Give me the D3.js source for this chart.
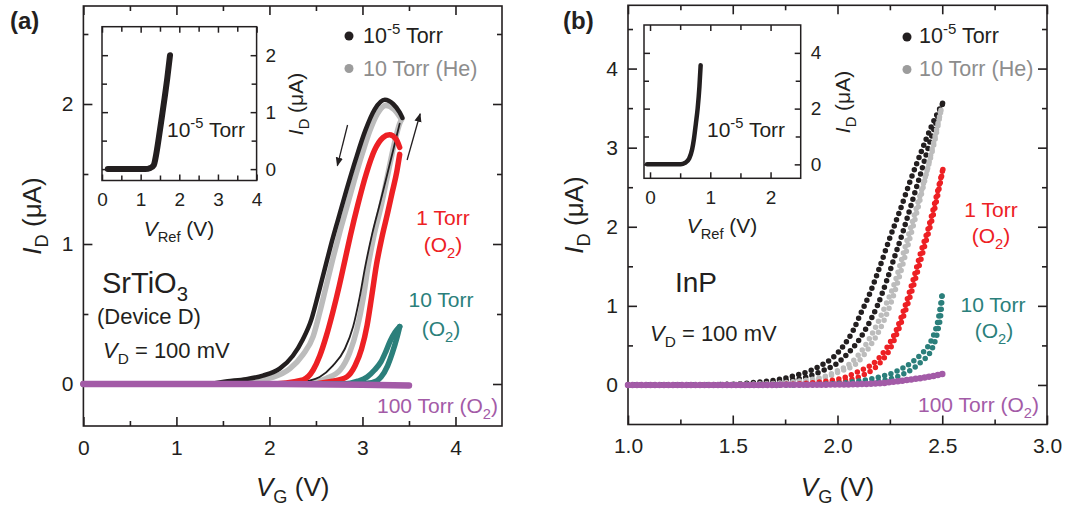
<!DOCTYPE html>
<html><head><meta charset="utf-8">
<script src="https://cdn.jsdelivr.net/npm/d3@7"></script>
<style>body{margin:0;background:#fff}</style>
</head><body>
<svg id="c" width="1068" height="508" xmlns="http://www.w3.org/2000/svg"></svg>
<script>
// ---------------- DATA ----------------
// Panel (a): SrTiO3, [V_G (V), I_D (uA)]
const aBlackRev = [[0,0],[1.3,0],[1.55,0.02],[1.75,0.035],[1.93,0.06],[2.11,0.11],[2.25,0.2],[2.36,0.32],[2.45,0.46],[2.52,0.63],[2.59,0.81],[2.66,0.99],[2.74,1.18],[2.83,1.39],[2.93,1.61],[3.03,1.81],[3.13,1.96],[3.24,2.03],[3.33,2.0],[3.4,1.94],[3.43,1.9]];
const aBlackFwd = [[0,0],[2.2,0],[2.4,0.02],[2.54,0.05],[2.68,0.13],[2.81,0.25],[2.9,0.41],[2.97,0.62],[3.03,0.84],[3.1,1.06],[3.18,1.27],[3.26,1.48],[3.33,1.67],[3.4,1.86]];
const aGrayRev = [[0,0],[1.5,0],[1.75,0.02],[2.04,0.05],[2.22,0.11],[2.36,0.21],[2.47,0.34],[2.54,0.51],[2.61,0.7],[2.68,0.89],[2.75,1.07],[2.83,1.26],[2.91,1.45],[3.0,1.65],[3.08,1.81],[3.16,1.93],[3.25,1.99],[3.34,1.96],[3.4,1.91],[3.42,1.89]];
const aGrayFwd = [[0,0],[2.3,0],[2.47,0.01],[2.61,0.04],[2.76,0.1],[2.86,0.22],[2.94,0.39],[3.01,0.62],[3.06,0.84],[3.12,1.05],[3.2,1.27],[3.27,1.49],[3.34,1.71],[3.4,1.86],[3.42,1.89]];
const aRedRev = [[0,0],[2,0],[2.36,0.03],[2.47,0.1],[2.54,0.2],[2.61,0.34],[2.68,0.51],[2.75,0.7],[2.81,0.88],[2.87,1.06],[2.95,1.28],[3.04,1.5],[3.13,1.67],[3.22,1.76],[3.29,1.78],[3.36,1.75],[3.4,1.69]];
const aRedFwd = [[0,0],[2.4,0],[2.68,0.02],[2.83,0.05],[2.92,0.13],[2.99,0.25],[3.05,0.42],[3.1,0.63],[3.15,0.85],[3.21,1.05],[3.27,1.22],[3.32,1.37],[3.37,1.52],[3.4,1.64]];
const aTealFwd = [[0,0],[2.9,0],[3.1,0.01],[3.2,0.05],[3.27,0.13],[3.32,0.22],[3.37,0.33],[3.4,0.41]];
const aTealRev = [[0,0],[2.8,0],[2.95,0.02],[3.05,0.05],[3.13,0.1],[3.2,0.16],[3.25,0.23],[3.3,0.31],[3.35,0.37],[3.4,0.41]];
const aPurple = [[0,0],[1,0],[2,0],[3,-0.005],[3.5,-0.01]];
// Inset (a): [V_Ref (V), I_D (uA)]
const aInset = [[0.15,0],[0.6,0],[1.12,0],[1.25,0.02],[1.34,0.07],[1.4,0.25],[1.47,0.55],[1.55,0.92],[1.62,1.25],[1.69,1.6],[1.76,2.0]];

// Panel (b): InP
const bBlackRev = [[1,0],[1.3,0],[1.5,0.01],[1.6,0.03],[1.7,0.06],[1.8,0.12],[1.87,0.18],[1.93,0.26],[1.98,0.35],[2.03,0.5],[2.075,0.69],[2.11,0.9],[2.147,1.11],[2.2,1.48],[2.25,1.86],[2.3,2.22],[2.35,2.6],[2.4,2.95],[2.45,3.28],[2.505,3.58]];
const bBlackFwd = [[1,0],[1.5,0.005],[1.65,0.02],[1.75,0.05],[1.85,0.1],[1.93,0.18],[1.996,0.27],[2.05,0.4],[2.1,0.56],[2.15,0.78],[2.19,1.0],[2.235,1.32],[2.27,1.6],[2.314,1.95],[2.36,2.35],[2.4,2.7],[2.45,3.15],[2.505,3.58]];
const bGrayRev = [[1,0],[1.6,0.01],[1.75,0.03],[1.85,0.06],[1.93,0.1],[2.0,0.18],[2.06,0.27],[2.12,0.45],[2.17,0.67],[2.225,0.98],[2.274,1.3],[2.32,1.72],[2.37,2.18],[2.42,2.64],[2.46,3.04],[2.497,3.51]];
const bGrayFwd = [[1,0],[1.7,0.01],[1.85,0.04],[1.95,0.1],[2.02,0.18],[2.09,0.27],[2.15,0.47],[2.2,0.69],[2.25,1.0],[2.29,1.32],[2.34,1.8],[2.39,2.3],[2.44,2.85],[2.497,3.51]];
const bRedRev = [[1,0],[1.7,0.005],[1.85,0.02],[1.95,0.05],[2.04,0.1],[2.1,0.17],[2.17,0.27],[2.23,0.45],[2.28,0.69],[2.32,0.98],[2.36,1.32],[2.4,1.7],[2.43,1.95],[2.45,2.15],[2.475,2.42],[2.505,2.75]];
const bRedFwd = [[1,0],[1.8,0.005],[1.95,0.02],[2.05,0.06],[2.12,0.12],[2.2,0.27],[2.25,0.45],[2.29,0.69],[2.33,0.98],[2.37,1.32],[2.41,1.7],[2.44,1.98],[2.46,2.18],[2.48,2.42],[2.505,2.75]];
const bTealRev = [[1,0],[1.8,0],[2.0,0.02],[2.1,0.05],[2.2,0.1],[2.28,0.17],[2.346,0.27],[2.4,0.39],[2.43,0.48],[2.46,0.64],[2.48,0.82],[2.5,1.16]];
const bTealFwd = [[1,0],[2.05,0.01],[2.2,0.05],[2.3,0.12],[2.39,0.27],[2.455,0.48],[2.48,0.7],[2.495,0.95],[2.5,1.16]];
const bPurple = [[1,0],[1.5,0],[2.0,0.005],[2.2,0.02],[2.25,0.035],[2.38,0.08],[2.45,0.11],[2.505,0.14]];
// Inset (b)
const bInset = [[-0.05,0],[0.3,0],[0.51,0],[0.58,0.05],[0.65,0.21],[0.7,0.55],[0.73,0.93],[0.76,1.45],[0.79,2.0],[0.82,2.8],[0.84,3.56]];

// Ticks
const aXTicks = [0,1,2,3,4], aXMinor = [0.5,1.5,2.5,3.5];
const aYTicks = [0,1,2], aYMinor = [0.5,1.5,2.5];
const bXTicks = [1.0,1.5,2.0,2.5,3.0], bXMinor = [1.25,1.75,2.25,2.75];
const bYTicks = [0,1,2,3,4], bYMinor = [0.5,1.5,2.5,3.5,4.5];
const aiXTicks = [0,1,2,3,4], aiXMinor = [0.5,1.5,2.5,3.5];
const aiYTicks = [0,1,2], aiYMinor = [0.5,1.5];
const biXTicks = [0,1,2], biXMinor = [0.5,1.5];
const biYTicks = [0,2,4], biYMinor = [1,3];

// Annotation arrows (data coords of panel a)
const aArrowDown = [[2.84,1.85],[2.73,1.56]];
const aArrowUp = [[3.48,1.6],[3.62,1.93]];

// ---------------- DRAW ----------------
const FONT = '"Liberation Sans", Arial, Helvetica, sans-serif';
const INK = "#231f20";
const COL = {black:"#231f20", gray:"#bcbcbc", grayDot:"#9c9c9c", grayText:"#8d8d8d",
  red:"#ed2024", teal:"#2b7f7b", purple:"#a35ba7"};
const svg = d3.select("#c");

function rich(parent, x, y, size, parts, o = {}) {
  const t = parent.append("text").attr("x", x).attr("y", y)
    .attr("font-size", size).attr("font-family", FONT).attr("fill", o.fill || INK);
  if (o.anchor) t.attr("text-anchor", o.anchor);
  if (o.weight) t.attr("font-weight", o.weight);
  if (o.rotate) t.attr("transform", `rotate(${o.rotate},${x},${y})`);
  let shift = 0;
  parts.forEach(([s, st]) => {
    const sp = t.append("tspan").text(s);
    let target = 0;
    if (st === "sub") { target = size * 0.27; sp.attr("font-size", size * 0.7); }
    else if (st === "sup") { target = -size * 0.42; sp.attr("font-size", size * 0.7); }
    else if (st === "i") sp.attr("font-style", "italic");
    if (target !== shift) { sp.attr("dy", target - shift); shift = target; }
  });
  return t;
}

function frame(g, x, y, o) {
  const [x0, x1] = x.range(), [y0, y1] = y.range();
  const ax = (fn, pos, vals, size, fmt, pad) => {
    const a = fn(pos === "x" ? x : y).tickValues(vals).tickSize(-size).tickPadding(pad || 3);
    a.tickFormat(fmt || (() => ""));
    return a;
  };
  g.append("g").attr("transform", `translate(0,${y0})`).call(ax(d3.axisBottom, "x", o.xMinor, o.minor));
  g.append("g").attr("transform", `translate(0,${y0})`).call(ax(d3.axisBottom, "x", o.xMajor, o.major, o.xFmt, o.xPad));
  g.append("g").attr("transform", `translate(0,${y1})`).call(ax(d3.axisTop, "x", o.xMinor, o.minor));
  g.append("g").attr("transform", `translate(0,${y1})`).call(ax(d3.axisTop, "x", o.xMajor, o.major));
  const labLeft = o.ySide !== "right";
  g.append("g").attr("transform", `translate(${x0},0)`).call(ax(d3.axisLeft, "y", o.yMinor, o.minor));
  g.append("g").attr("transform", `translate(${x0},0)`).call(ax(d3.axisLeft, "y", o.yMajor, o.major, labLeft ? o.yFmt : null, o.yPad));
  g.append("g").attr("transform", `translate(${x1},0)`).call(ax(d3.axisRight, "y", o.yMinor, o.minor));
  g.append("g").attr("transform", `translate(${x1},0)`).call(ax(d3.axisRight, "y", o.yMajor, o.major, labLeft ? null : o.yFmt, o.yPad));
  g.selectAll(".domain").remove();
  g.selectAll(".tick line").attr("stroke", INK).attr("stroke-width", o.sw);
  g.selectAll(".tick text").attr("font-size", o.fs).attr("fill", INK).attr("font-family", FONT);
  g.append("rect").attr("x", x0).attr("y", y1).attr("width", x1 - x0).attr("height", y0 - y1)
    .attr("fill", "none").attr("stroke", INK).attr("stroke-width", o.sw);
}

function curve(g, x, y, data, color, width, dotted) {
  const line = d3.line().x(d => x(d[0])).y(d => y(d[1])).curve(d3.curveMonotoneX);
  const p = g.append("path").attr("d", line(data)).attr("fill", "none")
    .attr("stroke", color).attr("stroke-width", width)
    .attr("stroke-linecap", "round").attr("stroke-linejoin", "round");
  if (dotted) p.attr("stroke-dasharray", dotted);
}

// marker
svg.append("defs").append("marker").attr("id", "ah").attr("viewBox", "0 0 10 10")
  .attr("refX", 9).attr("refY", 5).attr("markerWidth", 9).attr("markerHeight", 9)
  .attr("markerUnits", "userSpaceOnUse").attr("orient", "auto")
  .append("path").attr("d", "M0,1 L10,5 L0,9 Z").attr("fill", INK);

// ===== Panel (a) =====
const ga = svg.append("g");
const xa = d3.scaleLinear().domain([0, 4.5]).range([83.4, 502]);
const ya = d3.scaleLinear().domain([-0.3, 2.7]).range([426, 6]);
frame(ga, xa, ya, {xMajor: aXTicks, xMinor: aXMinor, yMajor: aYTicks, yMinor: aYMinor,
  major: 9, minor: 5, sw: 1.6, fs: 21, xPad: 14, yPad: 10, xFmt: d3.format("d"), yFmt: d3.format("d")});

curve(ga, xa, ya, aGrayRev, COL.gray, 5.5);
curve(ga, xa, ya, aGrayFwd, COL.gray, 5.5);
curve(ga, xa, ya, aBlackRev, COL.black, 4.5);
curve(ga, xa, ya, aBlackFwd, COL.black, 1.8);
curve(ga, xa, ya, aRedRev, COL.red, 5.5);
curve(ga, xa, ya, aRedFwd, COL.red, 5.5);
curve(ga, xa, ya, aTealRev, COL.teal, 5.5);
curve(ga, xa, ya, aTealFwd, COL.teal, 5.5);
curve(ga, xa, ya, aPurple, COL.purple, 6.5);

[aArrowDown, aArrowUp].forEach(ar => {
  ga.append("line").attr("x1", xa(ar[0][0])).attr("y1", ya(ar[0][1]))
    .attr("x2", xa(ar[1][0])).attr("y2", ya(ar[1][1]))
    .attr("stroke", INK).attr("stroke-width", 1.3).attr("marker-end", "url(#ah)");
});

// inset a
const gai = svg.append("g");
const xai = d3.scaleLinear().domain([0, 4]).range([102, 256.6]);
const yai = d3.scaleLinear().domain([-0.2, 2.5]).range([180.5, 26.7]);
frame(gai, xai, yai, {xMajor: aiXTicks, xMinor: aiXMinor, yMajor: aiYTicks, yMinor: aiYMinor,
  major: 6, minor: 5, sw: 1.5, fs: 19, xPad: 12, yPad: 9, xFmt: d3.format("d"), yFmt: d3.format("d"), ySide: "right"});
curve(gai, xai, yai, aInset, COL.black, 6);
rich(gai, 167, 137, 21, [["10", ""], ["-5", "sup"], [" Torr", ""]]);
rich(gai, 179, 236, 21, [["V", "i"], ["Ref", "sub"], [" (V)", ""]], {anchor: "middle"});
rich(gai, 303, 104, 21, [["I", "i"], ["D", "sub"], [" (μA)", ""]], {anchor: "middle", rotate: -90});

// legend a
ga.append("circle").attr("cx", 349).attr("cy", 36).attr("r", 4.5).attr("fill", COL.black);
rich(ga, 363, 43, 21.5, [["10", ""], ["-5", "sup"], [" Torr", ""]]);
ga.append("circle").attr("cx", 349).attr("cy", 68.5).attr("r", 4.5).attr("fill", COL.grayDot);
rich(ga, 363, 76, 21.5, [["10 Torr (He)", ""]], {fill: COL.grayText});

// labels a
rich(ga, 443, 225, 21, [["1 Torr", ""]], {anchor: "middle", fill: COL.red});
rich(ga, 443, 252, 21, [["(O", ""], ["2", "sub"], [")", ""]], {anchor: "middle", fill: COL.red});
rich(ga, 441, 307, 21, [["10 Torr", ""]], {anchor: "middle", fill: COL.teal});
rich(ga, 441, 336, 21, [["(O", ""], ["2", "sub"], [")", ""]], {anchor: "middle", fill: COL.teal});
rich(ga, 498, 413, 21, [["100 Torr (O", ""], ["2", "sub"], [")", ""]], {anchor: "end", fill: COL.purple});
rich(ga, 102, 293, 29, [["SrTiO", ""], ["3", "sub"]]);
rich(ga, 97, 324, 22, [["(Device D)", ""]]);
rich(ga, 103, 358, 22, [["V", "i"], ["D", "sub"], [" = 100 mV", ""]]);
rich(ga, 10, 29, 24, [["(a)", ""]], {weight: "bold"});
rich(ga, 292.7, 496, 26, [["V", "i"], ["G", "sub"], [" (V)", ""]], {anchor: "middle"});
rich(ga, 41, 216, 26, [["I", "i"], ["D", "sub"], [" (μA)", ""]], {anchor: "middle", rotate: -90});

// ===== Panel (b) =====
const gb = svg.append("g");
const xb = d3.scaleLinear().domain([1, 3]).range([628, 1047]);
const yb = d3.scaleLinear().domain([-0.5, 4.8]).range([424.5, 5.3]);
frame(gb, xb, yb, {xMajor: bXTicks, xMinor: bXMinor, yMajor: bYTicks, yMinor: bYMinor,
  major: 9, minor: 5, sw: 1.6, fs: 21, xPad: 14, yPad: 10, xFmt: d3.format(".1f"), yFmt: d3.format("d")});

const DOT = "0 6.6";
curve(gb, xb, yb, bBlackRev, COL.black, 5.5, DOT);
curve(gb, xb, yb, bBlackFwd, COL.black, 5.5, DOT);
curve(gb, xb, yb, bGrayRev, COL.gray, 5.5, DOT);
curve(gb, xb, yb, bGrayFwd, COL.gray, 5.5, DOT);
curve(gb, xb, yb, bRedRev, COL.red, 5.5, DOT);
curve(gb, xb, yb, bRedFwd, COL.red, 5.5, DOT);
curve(gb, xb, yb, bTealRev, COL.teal, 5.5, DOT);
curve(gb, xb, yb, bTealFwd, COL.teal, 5.5, DOT);
curve(gb, xb, yb, bPurple, COL.purple, 6.5, "0 4.5");

// inset b
const gbi = svg.append("g");
const xbi = d3.scaleLinear().domain([-0.1, 2.5]).range([644, 800.7]);
const ybi = d3.scaleLinear().domain([-0.5, 5]).range([178.3, 25]);
frame(gbi, xbi, ybi, {xMajor: biXTicks, xMinor: biXMinor, yMajor: biYTicks, yMinor: biYMinor,
  major: 6, minor: 5, sw: 1.5, fs: 19, xPad: 12, yPad: 10, xFmt: d3.format("d"), yFmt: d3.format("d"), ySide: "right"});
curve(gbi, xbi, ybi, bInset, COL.black, 4.5);
rich(gbi, 707, 137, 21, [["10", ""], ["-5", "sup"], [" Torr", ""]]);
rich(gbi, 722, 233, 21, [["V", "i"], ["Ref", "sub"], [" (V)", ""]], {anchor: "middle"});
rich(gbi, 850, 102, 21, [["I", "i"], ["D", "sub"], [" (μA)", ""]], {anchor: "middle", rotate: -90});

// legend b
gb.append("circle").attr("cx", 907).attr("cy", 37).attr("r", 4.5).attr("fill", COL.black);
rich(gb, 919, 43, 21.5, [["10", ""], ["-5", "sup"], [" Torr", ""]]);
gb.append("circle").attr("cx", 907).attr("cy", 69.5).attr("r", 4.5).attr("fill", COL.grayDot);
rich(gb, 919, 75.5, 21.5, [["10 Torr (He)", ""]], {fill: COL.grayText});

// labels b
rich(gb, 991, 217, 21, [["1 Torr", ""]], {anchor: "middle", fill: COL.red});
rich(gb, 991, 243, 21, [["(O", ""], ["2", "sub"], [")", ""]], {anchor: "middle", fill: COL.red});
rich(gb, 993, 312, 21, [["10 Torr", ""]], {anchor: "middle", fill: COL.teal});
rich(gb, 994, 338, 21, [["(O", ""], ["2", "sub"], [")", ""]], {anchor: "middle", fill: COL.teal});
rich(gb, 1039, 412, 21, [["100 Torr (O", ""], ["2", "sub"], [")", ""]], {anchor: "end", fill: COL.purple});
rich(gb, 675, 292, 28, [["InP", ""]]);
rich(gb, 650, 341, 22, [["V", "i"], ["D", "sub"], [" = 100 mV", ""]]);
rich(gb, 563, 29, 24, [["(b)", ""]], {weight: "bold"});
rich(gb, 837.5, 496, 26, [["V", "i"], ["G", "sub"], [" (V)", ""]], {anchor: "middle"});
rich(gb, 583, 215, 26, [["I", "i"], ["D", "sub"], [" (μA)", ""]], {anchor: "middle", rotate: -90});
</script>
</body></html>
